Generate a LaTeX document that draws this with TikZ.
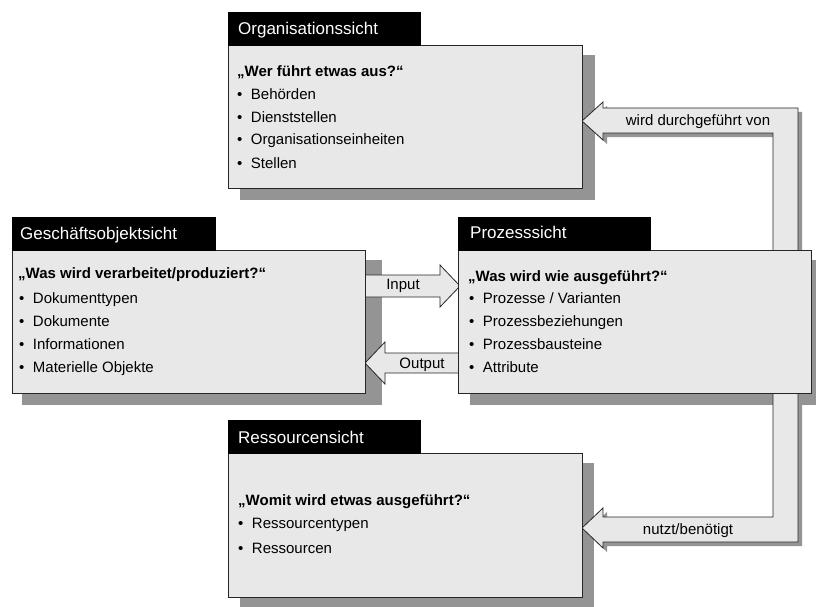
\documentclass[tikz,border=0pt]{standalone}
\usepackage{fontspec}
\setmainfont{Liberation Sans}
\begin{document}
\begin{tikzpicture}[x=1pt,y=-1pt,
 shadowc/.style={fill=black!42, draw=none},
 bodybox/.style={draw=black!85, line width=0.9pt, fill=gray!18, inner sep=0, anchor=north west},
 hdrbox/.style={fill=black, draw=black, inner sep=0, anchor=north west, minimum height=33pt},
 hdrtext/.style={text=white, font=\fontsize{17}{20}\selectfont, anchor=base west, inner sep=0},
 qtext/.style={font=\bfseries\fontsize{15}{18}\selectfont, anchor=base west, inner sep=0},
 itext/.style={font=\fontsize{15}{18}\selectfont, anchor=base west, inner sep=0},
 arrowshape/.style={fill=gray!18, draw=black!85, line width=0.8pt, line join=miter},
 albl/.style={font=\fontsize{15}{18}\selectfont, anchor=base, inner sep=0}]
\newcommand{\bul}{\textbullet\hspace{8.5pt}}
\useasboundingbox (0,0) rectangle (816,607);
\fill[white] (0,0) rectangle (816,607);

% shadows
\fill[shadowc] (240,55) rectangle (595,200);
\fill[shadowc] (22,260) rectangle (382,405);
\fill[shadowc] (470,260) rectangle (824,405);
\fill[shadowc] (240,463) rectangle (594,609);

% bracket connector (Prozesssicht -> Organisationssicht / Ressourcensicht)
\begin{scope}[shift={(4,4)}]
\fill[shadowc] (582,121) -- (603,102) -- (603,108) -- (798,108) -- (798,542) -- (603,542) -- (603,548) -- (582,528) -- (603,508) -- (603,517) -- (773,517) -- (773,133) -- (603,133) -- (603,140) -- cycle;
\end{scope}
\draw[arrowshape] (582,121) -- (603,102) -- (603,108) -- (798,108) -- (798,542) -- (603,542) -- (603,548) -- (582,528) -- (603,508) -- (603,517) -- (773,517) -- (773,133) -- (603,133) -- (603,140) -- cycle;

% Input / Output arrows
\draw[arrowshape] (365,275) -- (440,275) -- (440,265) -- (460,286) -- (440,307) -- (440,297) -- (365,297) -- cycle;
\draw[arrowshape] (365,363) -- (385,342) -- (385,353) -- (460,353) -- (460,373) -- (385,373) -- (385,384) -- cycle;

% boxes
\node[bodybox, minimum width=354pt, minimum height=143pt] (orgbody) at (228,45) {};
\node[hdrbox, minimum width=192pt] (orghdr) at (228,12) {};
\node[bodybox, minimum width=353pt, minimum height=143pt] (gesbody) at (12,250) {};
\node[hdrbox, minimum width=203pt] (geshdr) at (12,217) {};
\node[bodybox, minimum width=353pt, minimum height=143pt] (probody) at (458,250) {};
\node[hdrbox, minimum width=192pt] (prohdr) at (458,217) {};
\node[bodybox, minimum width=354pt, minimum height=144pt] (resbody) at (228,453) {};
\node[hdrbox, minimum width=192pt] (reshdr) at (228,420) {};

% header texts
\node[hdrtext] (orgt) at (238,35) {Organisationssicht};
\node[hdrtext] (gest) at (20,239) {Geschäftsobjektsicht};
\node[hdrtext] (prot) at (470,238) {Prozesssicht};
\node[hdrtext] (rest) at (238,443) {Ressourcensicht};

% Organisationssicht
\node[qtext] (orgq) at (237,77) {„Wer führt etwas aus?“};
\node[itext] (org1) at (237,100) {\bul Behörden};
\node[itext] (org2) at (237,123) {\bul Dienststellen};
\node[itext] (org3) at (237,145) {\bul Organisationseinheiten};
\node[itext] (org4) at (237,168) {\bul Stellen};

% Geschäftsobjektsicht
\node[qtext] (gesq) at (18,278) {„Was wird verarbeitet/produziert?“};
\node[itext] (ges1) at (19,303) {\bul Dokumenttypen};
\node[itext] (ges2) at (19,326) {\bul Dokumente};
\node[itext] (ges3) at (19,349) {\bul Informationen};
\node[itext] (ges4) at (19,372) {\bul Materielle Objekte};

% Prozesssicht
\node[qtext] (proq) at (468,281) {„Was wird wie ausgeführt?“};
\node[itext] (pro1) at (469,303) {\bul Prozesse / Varianten};
\node[itext] (pro2) at (469,326) {\bul Prozessbeziehungen};
\node[itext] (pro3) at (469,349) {\bul Prozessbausteine};
\node[itext] (pro4) at (469,372) {\bul Attribute};

% Ressourcensicht
\node[qtext] (resq) at (238,505) {„Womit wird etwas ausgeführt?“};
\node[itext] (res1) at (238,528) {\bul Ressourcentypen};
\node[itext] (res2) at (238,553) {\bul Ressourcen};

% arrow labels
\node[albl] (inl) at (403,289) {Input};
\node[albl] (outl) at (422,368) {Output};
\node[albl] (durch) at (698,126) {wird durchgeführt von};
\node[albl] (nutzt) at (688,534) {nutzt/benötigt};
\end{tikzpicture}
\end{document}
